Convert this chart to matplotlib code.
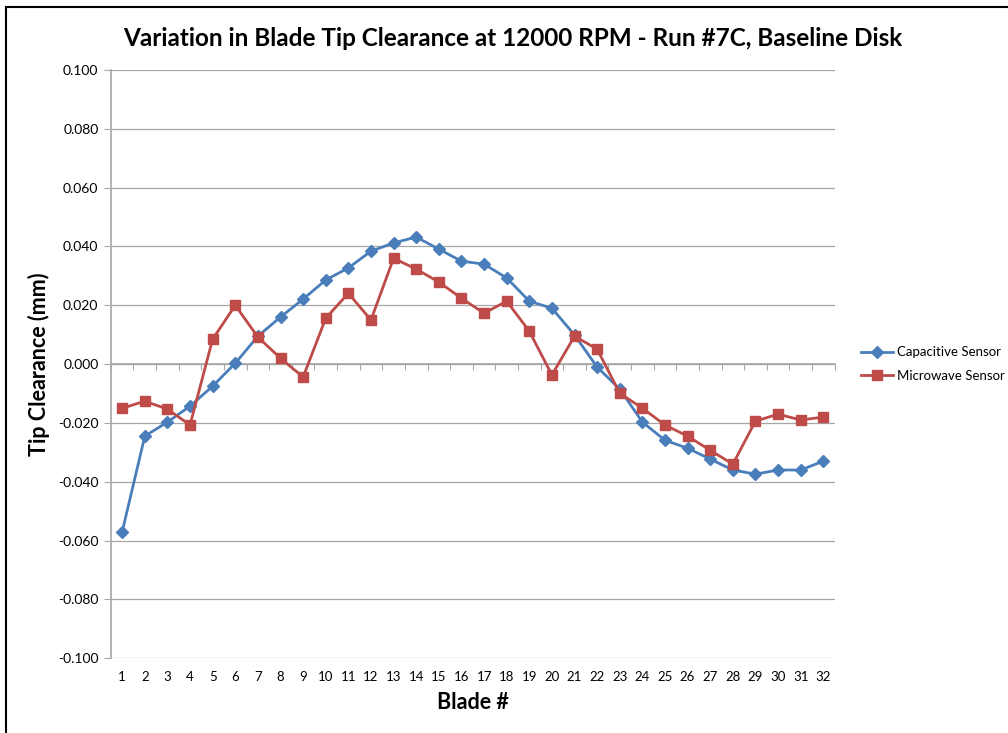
import numpy as np
import matplotlib
matplotlib.use("Agg")
import matplotlib.pyplot as plt
from matplotlib.patches import Rectangle

plt.rcParams['font.family'] = ['Lato', 'DejaVu Sans']

# blade numbers and tip clearance readings (mm)
blades = list(range(1, 33))
capacitive = [-0.057, -0.0245, -0.0197, -0.0143, -0.0075, 0.0003, 0.0095, 0.016,
              0.0221, 0.0286, 0.0327, 0.0384, 0.0412, 0.0432, 0.0391, 0.035,
              0.034, 0.0293, 0.0214, 0.019, 0.0099, -0.001, -0.0085, -0.0197,
              -0.0259, -0.0286, -0.0323, -0.036, -0.0374, -0.036, -0.036, -0.033]
microwave = [-0.015, -0.0126, -0.0153, -0.0207, 0.0085, 0.020, 0.0092, 0.002,
             -0.0044, 0.0156, 0.0241, 0.015, 0.036, 0.0323, 0.0279, 0.0224,
             0.0173, 0.0214, 0.0112, -0.0037, 0.0095, 0.0051, -0.0099, -0.015,
             -0.0207, -0.0245, -0.0293, -0.034, -0.0194, -0.017, -0.019, -0.018]
yticks = np.arange(-0.1, 0.1001, 0.02)

fig = plt.figure(figsize=(10.08, 7.33), dpi=100)
ax = fig.add_axes([0.110, 0.102, 0.718, 0.8025])

grid_c = '#a6a6a6'
for t in yticks:
    ax.axhline(t, color=grid_c, lw=0.9, zorder=0)

ax.plot(blades, capacitive, color='#4A7EBB', lw=2.0, marker='D', ms=6,
        label='Capacitive Sensor', zorder=3)
ax.plot(blades, microwave, color='#BE4B48', lw=2.0, marker='s', ms=7.5,
        label='Microwave Sensor', zorder=3)

ax.set_xlim(0.5, 32.5)
ax.set_ylim(-0.1, 0.1)
ax.set_yticks(yticks)
ax.set_yticklabels([f'{t:.3f}' for t in yticks], fontsize=10)
ax.set_xticks(blades)
ax.set_xticklabels([str(b) for b in blades], fontsize=9.5)
ax.tick_params(axis='x', length=0, pad=9)
ax.tick_params(axis='y', length=5, color=grid_c, direction='out', pad=4)

for s in ['top', 'right', 'bottom']:
    ax.spines[s].set_visible(False)
ax.spines['left'].set_color(grid_c)
ax.spines['left'].set_linewidth(1.2)

# category axis crossing at zero, tick marks hanging below it
sec = ax.secondary_xaxis(0.5)
sec.set_xticks(np.arange(0.5, 33, 1.0))
sec.set_xticklabels([])
sec.tick_params(length=4, color=grid_c, direction='in')
for sp in sec.spines.values():
    sp.set_color(grid_c)
    sp.set_linewidth(1.2)

fig.text(513 / 1008, 1 - 38 / 733,
         'Variation in Blade Tip Clearance at 12000 RPM - Run #7C, Baseline Disk',
         fontsize=17.5, fontweight='bold', ha='center', va='center')
ax.set_xlabel('Blade #', fontsize=15.5, fontweight='bold', labelpad=7)
ax.set_ylabel('Tip Clearance (mm)', fontsize=15.5, fontweight='bold', labelpad=6)

ax.legend(loc='center left', bbox_to_anchor=(1.02, 0.5), frameon=False,
          fontsize=9.5, handlelength=2.4, handletextpad=0.3, labelspacing=0.9)

fig.patches.append(Rectangle((6 / 1008, -0.01), 1.0, 1 - 6.5 / 733 + 0.01,
                             transform=fig.transFigure, fill=False,
                             edgecolor='black', lw=1.5))

fig.savefig('out.png', dpi=100)
